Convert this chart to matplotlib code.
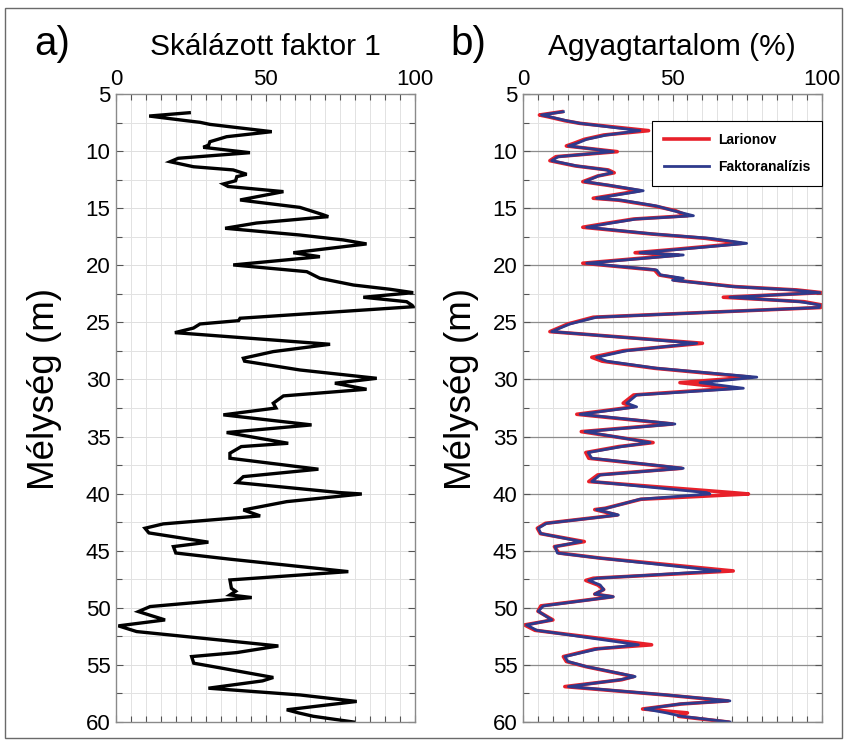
import matplotlib
matplotlib.use("Agg")
import matplotlib.pyplot as plt
from matplotlib.ticker import MultipleLocator
from matplotlib.patches import Rectangle

plt.rcParams['font.family'] = ['Liberation Sans', 'DejaVu Sans']

# ---- Panel a) : scaled factor 1 ----
depth_a = [6.64, 6.93, 7.34, 7.48, 7.66, 8.30, 8.74, 9.18, 9.47, 9.67,
           10.14, 10.63, 10.93, 11.37, 11.65, 12.03, 12.24, 12.60, 12.88, 13.10,
           13.55, 14.28, 14.40, 14.93, 15.30, 15.55, 15.74, 16.30, 16.76, 17.35,
           17.78, 18.13, 18.90, 19.25, 19.97, 20.56, 21.14, 21.73, 22.10, 22.40,
           22.80, 23.19, 23.50, 23.63, 24.64, 24.85, 25.14, 25.50, 25.90, 26.92,
           27.56, 28.14, 28.40, 29.17, 29.90, 30.33, 30.86, 31.44, 32.08, 32.50,
           33.10, 33.98, 34.65, 35.59, 35.88, 36.46, 36.90, 37.86, 38.51, 39.03,
           39.91, 40.03, 40.70, 41.43, 41.95, 42.65, 43.03, 43.44, 44.25, 44.64,
           45.20, 45.74, 46.83, 47.56, 48.29, 48.55, 48.87, 49.10, 49.89, 50.33,
           51.06, 51.58, 52.08, 53.34, 53.92, 54.27, 54.85, 55.15, 56.10, 56.40,
           57.04, 57.63, 58.20, 58.93, 59.20, 59.50, 60.00]
factor1 = [24.5, 11.1, 23.6, 28.1, 31.4, 52.1, 37.0, 31.4, 31.0, 29.2,
           44.8, 20.8, 18.1, 25.9, 39.2, 43.7, 40.4, 40.0, 35.9, 37.5,
           56.0, 41.5, 45.0, 61.5, 66.0, 69.0, 71.0, 47.0, 36.5, 61.5,
           76.0, 83.8, 59.3, 68.2, 39.2, 63.8, 68.2, 79.4, 91.6, 99.4,
           82.7, 97.2, 99.0, 99.4, 41.5, 41.0, 28.1, 25.9, 19.7, 71.6,
           52.6, 42.6, 43.0, 61.5, 87.2, 73.2, 83.8, 56.0, 52.6, 53.5,
           35.9, 65.4, 37.0, 57.6, 41.9, 38.1, 38.1, 67.7, 42.6, 40.4,
           74.9, 82.2, 57.1, 42.6, 48.2, 15.8, 9.7, 11.0, 30.9, 19.2,
           20.0, 38.1, 77.7, 38.1, 38.6, 40.0, 38.1, 45.4, 11.4, 7.5,
           16.4, 0.8, 6.9, 54.3, 40.4, 25.3, 26.0, 32.5, 52.6, 49.0,
           30.9, 61.5, 80.5, 57.1, 61.0, 66.0, 79.4]

# ---- Panel b) : clay content (%) ----
depth_b = [6.55, 6.84, 7.00, 7.34, 7.57, 8.21, 8.59, 8.97, 9.32, 9.55,
           10.05, 10.49, 10.84, 11.30, 11.65, 11.90, 12.18, 12.68, 13.00, 13.47,
           14.13, 14.30, 14.81, 15.22, 15.66, 15.95, 16.32, 16.67, 17.26, 17.64,
           18.08, 18.60, 18.90, 19.10, 19.82, 20.41, 20.85, 21.14, 21.30, 21.87,
           22.16, 22.40, 22.80, 23.19, 23.48, 23.70, 24.55, 25.14, 25.81, 26.83,
           27.48, 28.06, 28.40, 29.02, 29.80, 30.28, 30.77, 31.36, 32.08, 32.40,
           33.05, 33.90, 34.57, 35.53, 35.88, 36.40, 36.90, 37.78, 38.36, 38.94,
           39.91, 40.03, 40.49, 41.28, 41.40, 41.87, 42.60, 43.03, 43.50, 44.20,
           44.64, 45.20, 45.65, 46.77, 47.41, 47.60, 48.00, 48.40, 48.80, 49.03,
           49.83, 50.30, 51.06, 51.50, 51.97, 53.24, 53.60, 54.27, 54.70, 55.15,
           56.02, 56.30, 56.90, 57.63, 58.15, 58.42, 58.86, 59.20, 59.50, 60.00]
faktoranalizis = [13.5, 6.2, 9.0, 14.6, 19.1, 39.1, 28.0, 21.3, 18.0, 15.2,
                  30.2, 11.8, 9.6, 18.0, 28.0, 29.8, 25.2, 20.7, 29.0, 40.2,
                  24.6, 33.0, 44.7, 50.3, 57.0, 37.8, 29.1, 21.3, 43.6, 62.5,
                  74.8, 52.5, 39.1, 53.6, 21.3, 44.7, 46.0, 53.6, 50.0, 70.3,
                  90.4, 99.3, 69.2, 92.6, 99.3, 99.0, 24.6, 15.7, 9.6, 58.1,
                  34.7, 24.6, 28.0, 44.7, 78.2, 59.2, 73.7, 38.0, 34.7, 38.0,
                  19.1, 50.8, 20.7, 42.5, 33.0, 21.8, 23.0, 53.6, 25.8, 23.0,
                  61.4, 62.5, 39.1, 28.0, 24.6, 31.9, 7.9, 5.1, 6.0, 19.5,
                  10.7, 11.5, 25.8, 65.9, 24.6, 22.0, 25.8, 27.0, 24.0, 30.2,
                  6.8, 5.1, 9.6, 1.2, 4.6, 38.6, 25.0, 14.0, 15.0, 21.3,
                  37.5, 32.5, 15.2, 48.0, 69.2, 52.5, 40.8, 48.0, 53.0, 69.2]
larionov = [13.0, 5.5, 8.5, 14.0, 19.0, 42.0, 27.0, 20.5, 17.0, 14.5,
            31.5, 11.0, 9.0, 17.5, 28.5, 30.5, 25.0, 20.0, 28.5, 39.0,
            23.5, 32.0, 44.0, 51.0, 55.0, 37.0, 28.0, 20.0, 43.0, 61.0,
            73.0, 51.0, 37.5, 52.0, 20.0, 44.0, 45.5, 52.0, 50.5, 71.0,
            91.5, 100.0, 67.0, 94.0, 100.0, 99.5, 23.5, 15.0, 9.0, 60.0,
            33.5, 23.0, 26.5, 44.0, 76.0, 52.5, 70.0, 37.0, 33.5, 37.0,
            18.0, 50.0, 19.5, 43.5, 32.0, 21.0, 22.0, 53.0, 25.0, 22.0,
            70.0, 75.4, 39.5, 27.5, 24.0, 31.5, 7.5, 4.8, 5.8, 20.5,
            10.5, 12.0, 26.0, 70.3, 23.5, 21.0, 25.0, 27.0, 24.0, 30.0,
            6.0, 5.0, 10.0, 0.5, 4.0, 43.0, 24.0, 13.5, 14.5, 21.0,
            37.0, 33.0, 14.0, 47.5, 68.5, 53.0, 40.0, 55.0, 52.0, 68.5]

xticks = [0, 50, 100]
yticks = [5, 10, 15, 20, 25, 30, 35, 40, 45, 50, 55, 60]

W, H = 846, 740
fig = plt.figure(figsize=(W / 100, H / 100), dpi=100)

ax_a = fig.add_axes([116 / W, 1 - 722 / H, 299 / W, 628 / H])
ax_b = fig.add_axes([523 / W, 1 - 722 / H, 299 / W, 628 / H])

def style(ax, dark_major):
    ax.set_xlim(0, 100)
    ax.set_ylim(60, 5)
    ax.xaxis.set_major_locator(MultipleLocator(50))
    ax.xaxis.set_minor_locator(MultipleLocator(5))
    ax.yaxis.set_major_locator(MultipleLocator(5))
    ax.yaxis.set_minor_locator(MultipleLocator(2.5))
    ax.set_xticks(xticks)
    ax.set_yticks(yticks)
    ax.xaxis.tick_top()
    ax.tick_params(which='both', direction='in', top=True, bottom=True,
                   left=True, right=True, color='#555555', width=0.8)
    ax.tick_params(which='major', length=5, labelsize=16, pad=4)
    ax.tick_params(which='minor', length=4)
    ax.tick_params(axis='x', which='major', pad=3)
    ax.grid(which='minor', color='#e2e2e2', linewidth=0.7)
    if dark_major:
        ax.grid(which='major', axis='y', color='#8c8c8c', linewidth=0.9)
        ax.grid(which='major', axis='x', color='#dedede', linewidth=0.7)
    else:
        ax.grid(which='major', color='#dedede', linewidth=0.7)
    ax.set_axisbelow(True)
    for s in ax.spines.values():
        s.set_color('#8a8a8a')
        s.set_linewidth(1.0)
    ax.set_ylabel('Mélység (m)', fontsize=26.5)

style(ax_a, False)
style(ax_b, True)

ax_a.plot(factor1, depth_a, color='black', linewidth=2.4, solid_joinstyle='miter')
ax_b.plot(larionov, depth_b, color='#e8202a', linewidth=2.6, label='Larionov')
ax_b.plot(faktoranalizis, depth_b, color='#2e3a8c', linewidth=2.0, label='Faktoranalízis')

ax_a.yaxis.set_label_coords(-0.182, 0.53)
ax_b.yaxis.set_label_coords(-0.146, 0.53)

leg = ax_b.legend(loc='upper right', bbox_to_anchor=(1.0, 0.957), borderaxespad=0,
                  fancybox=False, framealpha=1, edgecolor='black',
                  prop={'weight': 'bold', 'size': 10},
                  handlelength=3.3, handletextpad=0.6, borderpad=0.85, labelspacing=0.95)
leg.get_frame().set_linewidth(0.8)

fig.text(52 / W, 1 - 44 / H, 'a)', fontsize=29, ha='center', va='center')
fig.text(468 / W, 1 - 44 / H, 'b)', fontsize=29, ha='center', va='center')
fig.text(265 / W, 1 - 47 / H, 'Skálázott faktor 1', fontsize=21.5, ha='center', va='center')
fig.text(672 / W, 1 - 47 / H, 'Agyagtartalom (%)', fontsize=21.5, ha='center', va='center')

fig.patches.append(Rectangle((5 / W, 2 / H), 837 / W, 730 / H, transform=fig.transFigure,
                             fill=False, edgecolor='#6a6a6a', linewidth=1.0))

fig.savefig('out.png', dpi=100)
